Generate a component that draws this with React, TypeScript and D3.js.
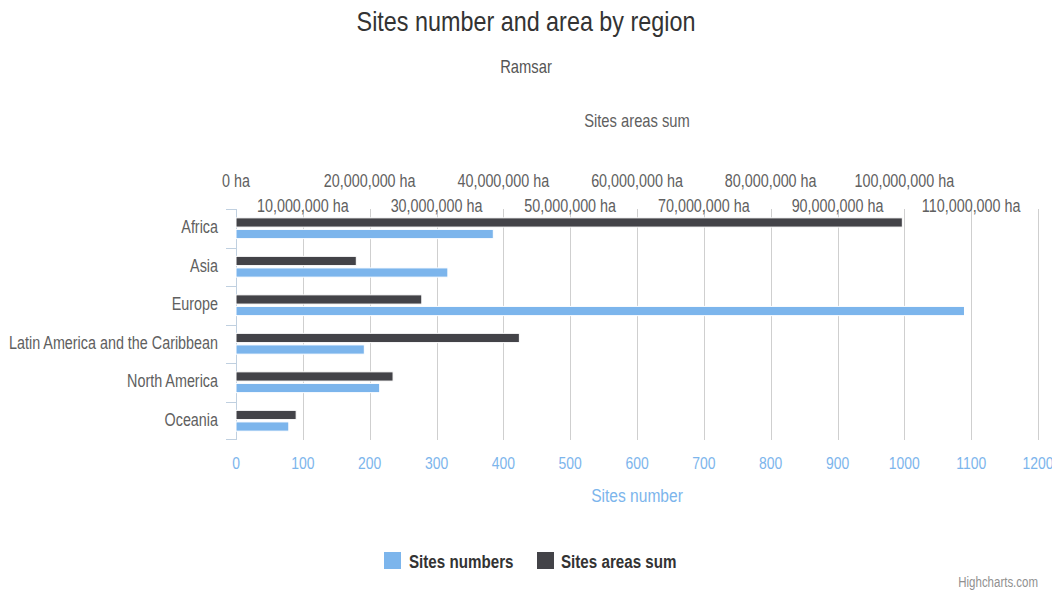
import React from "react";
import * as d3 from "d3";

const categories = [
  "Africa",
  "Asia",
  "Europe",
  "Latin America and the Caribbean",
  "North America",
  "Oceania",
];
const sitesNumbers = [385, 317, 1090, 192, 215, 79];
const areasSum = [99700000, 18000000, 27800000, 42400000, 23500000, 9000000];
const bottomTicks = [0, 100, 200, 300, 400, 500, 600, 700, 800, 900, 1000, 1100, 1200];
const topTicks = [0, 10e6, 20e6, 30e6, 40e6, 50e6, 60e6, 70e6, 80e6, 90e6, 100e6, 110e6];

const W = 1052;
const H = 590;
const FONT = '"Liberation Sans", Arial, sans-serif';
const SX = 0.82;
const BLUE = "#7cb5ec";
const DARK = "#434348";

function T(props: {
  x: number;
  y: number;
  size: number;
  fill: string;
  anchor?: string;
  weight?: string;
  children: React.ReactNode;
}) {
  const { x, y, size, fill, anchor, weight, children } = props;
  return (
    <text
      transform={`translate(${x},${y}) scale(${SX},1)`}
      textAnchor={anchor || "start"}
      fontSize={size}
      fontWeight={weight || "normal"}
      fill={fill}
    >
      {children}
    </text>
  );
}

export default function App() {
  const left = 236, right = 1038, top = 209, bottom = 440;
  const xNum = d3.scaleLinear().domain([0, 1200]).range([left, right]);
  const xArea = d3.scaleLinear().domain([0, 120e6]).range([left, right]);
  const y = d3.scaleBand().domain(categories).range([top, bottom]).paddingInner(0).paddingOuter(0);
  const band = y.bandwidth();
  const group = d3.scaleBand().domain(["area", "num"]).range([band * 0.2, band * 0.8]);
  const barH = group.bandwidth() * 0.8;
  const fmt = d3.format(",");

  return (
    <svg width={W} height={H} style={{ position: "absolute", left: 0, top: 0, display: "block", background: "#fff" }} fontFamily={FONT}>
      <rect x={0} y={0} width={W} height={H} fill="#fff" />
      <T x={W / 2} y={31} anchor="middle" size={28.5} fill="#333">Sites number and area by region</T>
      <T x={W / 2} y={73} anchor="middle" size={18} fill="#555">Ramsar</T>

      {/* grid */}
      {bottomTicks.map((t) => (
        <line key={"g" + t} x1={Math.round(xNum(t)) + 0.5} x2={Math.round(xNum(t)) + 0.5} y1={top} y2={bottom} stroke="#cfcfcf" strokeWidth={1} />
      ))}

      {/* top axis */}
      <T x={(left + right) / 2} y={127} anchor="middle" size={18} fill="#606060">Sites areas sum</T>
      {topTicks.map((t, i) => (
        <T key={"tt" + t} x={xArea(t)} y={i % 2 === 0 ? 187 : 212} anchor="middle" size={17.5} fill="#606060">
          {fmt(t) + " ha"}
        </T>
      ))}

      {/* y axis */}
      <line x1={left + 0.5} x2={left + 0.5} y1={top} y2={bottom} stroke="#c0d0e0" strokeWidth={1} />
      {categories.map((c, i) => (
        <line key={"yt" + i} x1={left - 10} x2={left} y1={Math.round(y(c)!) + 0.5} y2={Math.round(y(c)!) + 0.5} stroke="#c0d0e0" strokeWidth={1} />
      ))}
      <line x1={left - 10} x2={left} y1={bottom - 0.5} y2={bottom - 0.5} stroke="#c0d0e0" strokeWidth={1} />
      {categories.map((c) => (
        <T key={"yl" + c} x={218} y={y(c)! + band / 2 + 5} anchor="end" size={17.5} fill="#606060">{c}</T>
      ))}

      {/* bars */}
      {categories.map((c, i) => {
        const gy = y(c)!;
        const ay = gy + group("area")! + (group.bandwidth() - barH) / 2;
        const ny = gy + group("num")! + (group.bandwidth() - barH) / 2;
        return (
          <g key={"b" + c}>
            <rect x={xArea(0)} y={ay} width={xArea(areasSum[i]) - xArea(0)} height={barH} fill={DARK} stroke="#fff" strokeWidth={1} />
            <rect x={xNum(0)} y={ny} width={xNum(sitesNumbers[i]) - xNum(0)} height={barH} fill={BLUE} stroke="#fff" strokeWidth={1} />
          </g>
        );
      })}

      {/* bottom axis */}
      {bottomTicks.map((t) => (
        <T key={"bt" + t} x={xNum(t)} y={469} anchor="middle" size={17} fill={BLUE}>{t}</T>
      ))}
      <T x={(left + right) / 2} y={502} anchor="middle" size={19} fill={BLUE}>Sites number</T>

      {/* legend */}
      <rect x={384} y={552} width={17} height={17} fill={BLUE} />
      <T x={409} y={568} size={18.5} weight="bold" fill="#333">Sites numbers</T>
      <rect x={537} y={552} width={17} height={17} fill={DARK} />
      <T x={561} y={568} size={18.5} weight="bold" fill="#333">Sites areas sum</T>

      <T x={1038} y={587} anchor="end" size={14} fill="#909090">Highcharts.com</T>
    </svg>
  );
}
